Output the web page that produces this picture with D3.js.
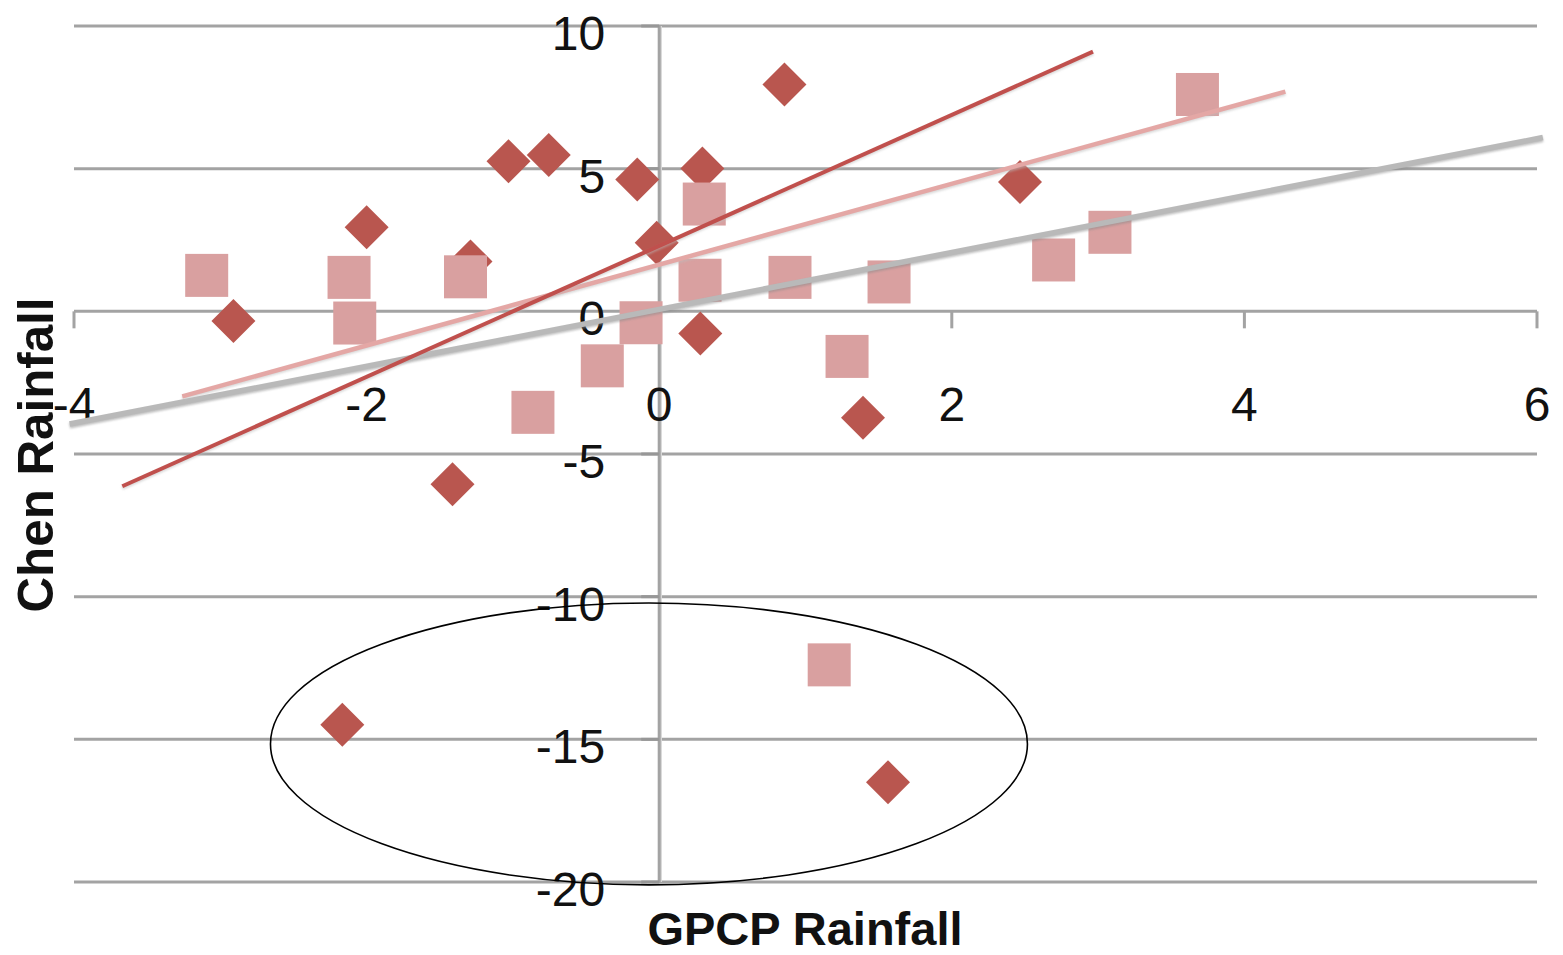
<!DOCTYPE html>
<html>
<head>
<meta charset="utf-8">
<script src="https://cdn.jsdelivr.net/npm/d3@7"></script>
<style>
  html, body { margin: 0; padding: 0; background: #fff; }
  svg { display: block; }
  text { font-family: "Liberation Sans", Arial, sans-serif; }
</style>
</head>
<body>
<svg id="chart" width="1563" height="955"></svg>
<script>
// ---- Data ----
const diamondX = [-2.91, -2.00, -1.29, -1.03, -0.755, -0.15, 0.295, -0.017, 0.281, 0.856, 2.466, 1.393, -1.413, -2.166, 1.564];
const diamondY = [-0.34, 2.95, 1.75, 5.26, 5.48, 4.62, 5.01, 2.40, -0.78, 7.95, 4.53, -3.73, -6.06, -14.49, -16.50];

const squareX = [-3.093, -2.120, -2.081, -1.324, -0.863, -0.389, -0.124, 0.308, 0.279, 0.894, 1.284, 1.571, 2.696, 3.081, 3.679, 1.162];
const squareY = [1.26, 1.19, -0.41, 1.21, -3.54, -1.91, -0.40, 3.76, 1.09, 1.19, -1.58, 1.03, 1.80, 2.77, 7.60, -12.39];

// trend lines: [x, y] endpoints
const trendDark = [[-3.67, -6.13], [2.965, 9.10]];
const trendPink = [[-3.26, -2.98], [4.28, 7.70]];
const trendGray = [[-4.03, -3.95], [6.04, 6.09]];

// highlighted outlier ellipse (data units): centre and radii
const ellipseCentre = [-0.07, -15.16];
const ellipseRadii = [2.587, 4.94];

const xTicks = [-4, -2, 0, 2, 4, 6];
const yTicks = [10, 5, 0, -5, -10, -15, -20];
const xTitle = "GPCP Rainfall";
const yTitle = "Chen Rainfall";

// ---- Scales ----
const x = d3.scaleLinear().domain([-4, 6]).range([74, 1537]);
const y = d3.scaleLinear().domain([-20, 10]).range([882, 26]);

const svg = d3.select("#chart");
svg.append("rect").attr("width", 1563).attr("height", 955).attr("fill", "#fff");

const defs = svg.append("defs");
const blur = defs.append("filter").attr("id", "soft").attr("x", "-10%").attr("y", "-10%").attr("width", "120%").attr("height", "120%");
blur.append("feGaussianBlur").attr("stdDeviation", 0.6);
const shadow = defs.append("filter").attr("id", "shadow").attr("x", "-5%").attr("y", "-50%").attr("width", "110%").attr("height", "200%");
shadow.append("feGaussianBlur").attr("stdDeviation", 1.2);

const gridColor = "#a3a3a3";

// gridlines (with light shadow)
const grid = svg.append("g");
grid.selectAll("line.sh").data(yTicks).join("line")
  .attr("x1", x(-4)).attr("x2", x(6))
  .attr("y1", d => y(d) + 1.5).attr("y2", d => y(d) + 1.5)
  .attr("stroke", "#cfcfcf").attr("stroke-width", 3).attr("filter", "url(#shadow)");
grid.selectAll("line.g").data(yTicks).join("line")
  .attr("x1", x(-4)).attr("x2", x(6))
  .attr("y1", d => y(d)).attr("y2", d => y(d))
  .attr("stroke", gridColor).attr("stroke-width", 3);

// vertical axis (x = 0)
svg.append("line")
  .attr("x1", x(0) + 1.5).attr("x2", x(0) + 1.5).attr("y1", y(10)).attr("y2", y(-20))
  .attr("stroke", "#d8d8d8").attr("stroke-width", 2.5);
svg.append("line")
  .attr("x1", x(0)).attr("x2", x(0)).attr("y1", y(10)).attr("y2", y(-20))
  .attr("stroke", gridColor).attr("stroke-width", 3);

// y ticks (left of axis)
svg.append("g").selectAll("line").data(yTicks).join("line")
  .attr("x1", x(0) - 18).attr("x2", x(0))
  .attr("y1", d => y(d)).attr("y2", d => y(d))
  .attr("stroke", "#979797").attr("stroke-width", 3);

// x ticks (below y = 0)
svg.append("g").selectAll("line").data(xTicks).join("line")
  .attr("x1", d => x(d)).attr("x2", d => x(d))
  .attr("y1", y(0)).attr("y2", y(0) + 17)
  .attr("stroke", gridColor).attr("stroke-width", 3);

// tick labels
svg.append("g").selectAll("text").data(yTicks).join("text")
  .attr("x", x(0) - 54).attr("y", d => y(d) + 24)
  .attr("text-anchor", "end")
  .attr("font-size", 48).attr("fill", "#111")
  .text(d => d);
svg.append("g").selectAll("text").data(xTicks).join("text")
  .attr("x", d => x(d)).attr("y", 421)
  .attr("text-anchor", "middle")
  .attr("font-size", 48).attr("fill", "#111")
  .text(d => d);

// markers: diamonds first, squares on top
const dHalf = 22;
svg.append("g").selectAll("path").data(diamondX.map((v, i) => [v, diamondY[i]])).join("path")
  .attr("d", d => {
    const cx = x(d[0]), cy = y(d[1]);
    return `M${cx},${cy - dHalf}L${cx + dHalf},${cy}L${cx},${cy + dHalf}L${cx - dHalf},${cy}Z`;
  })
  .attr("fill", "#b9564f")
  .attr("filter", "url(#soft)");

const sHalf = 21.5;
svg.append("g").selectAll("rect").data(squareX.map((v, i) => [v, squareY[i]])).join("rect")
  .attr("x", d => x(d[0]) - sHalf).attr("y", d => y(d[1]) - sHalf)
  .attr("width", sHalf * 2).attr("height", sHalf * 2)
  .attr("fill", "#d9a0a0")
  .attr("filter", "url(#soft)");

// trend lines (each with a soft drop shadow)
const line = d3.line().x(d => x(d[0])).y(d => y(d[1]));
function trend(pts, color, width, shadowColor) {
  svg.append("path").datum(pts.map(p => [p[0], p[1] - 0.06]))
    .attr("d", line).attr("fill", "none").attr("stroke", shadowColor)
    .attr("stroke-width", width).attr("opacity", 0.55).attr("filter", "url(#shadow)");
  svg.append("path").datum(pts)
    .attr("d", line).attr("fill", "none").attr("stroke", color).attr("stroke-width", width);
}
trend(trendGray, "#b9b9b9", 5.5, "#8a8a8a");
trend(trendPink, "#e4a7a5", 4.5, "#bbbbbb");
trend(trendDark, "#c0504d", 4, "#bbbbbb");

// ellipse
svg.append("ellipse")
  .attr("cx", x(ellipseCentre[0])).attr("cy", y(ellipseCentre[1]))
  .attr("rx", x(ellipseRadii[0]) - x(0)).attr("ry", y(0) - y(ellipseRadii[1]))
  .attr("fill", "none").attr("stroke", "#000").attr("stroke-width", 1.6);

// axis titles
svg.append("text")
  .attr("x", 805).attr("y", 945)
  .attr("text-anchor", "middle")
  .attr("font-size", 46).attr("font-weight", "bold").attr("fill", "#111")
  .attr("textLength", 315).attr("lengthAdjust", "spacingAndGlyphs")
  .text(xTitle);
svg.append("text")
  .attr("transform", "translate(53,455) rotate(-90)")
  .attr("text-anchor", "middle")
  .attr("font-size", 50).attr("font-weight", "bold").attr("fill", "#111")
  .attr("textLength", 315).attr("lengthAdjust", "spacingAndGlyphs")
  .text(yTitle);
</script>
</body>
</html>
